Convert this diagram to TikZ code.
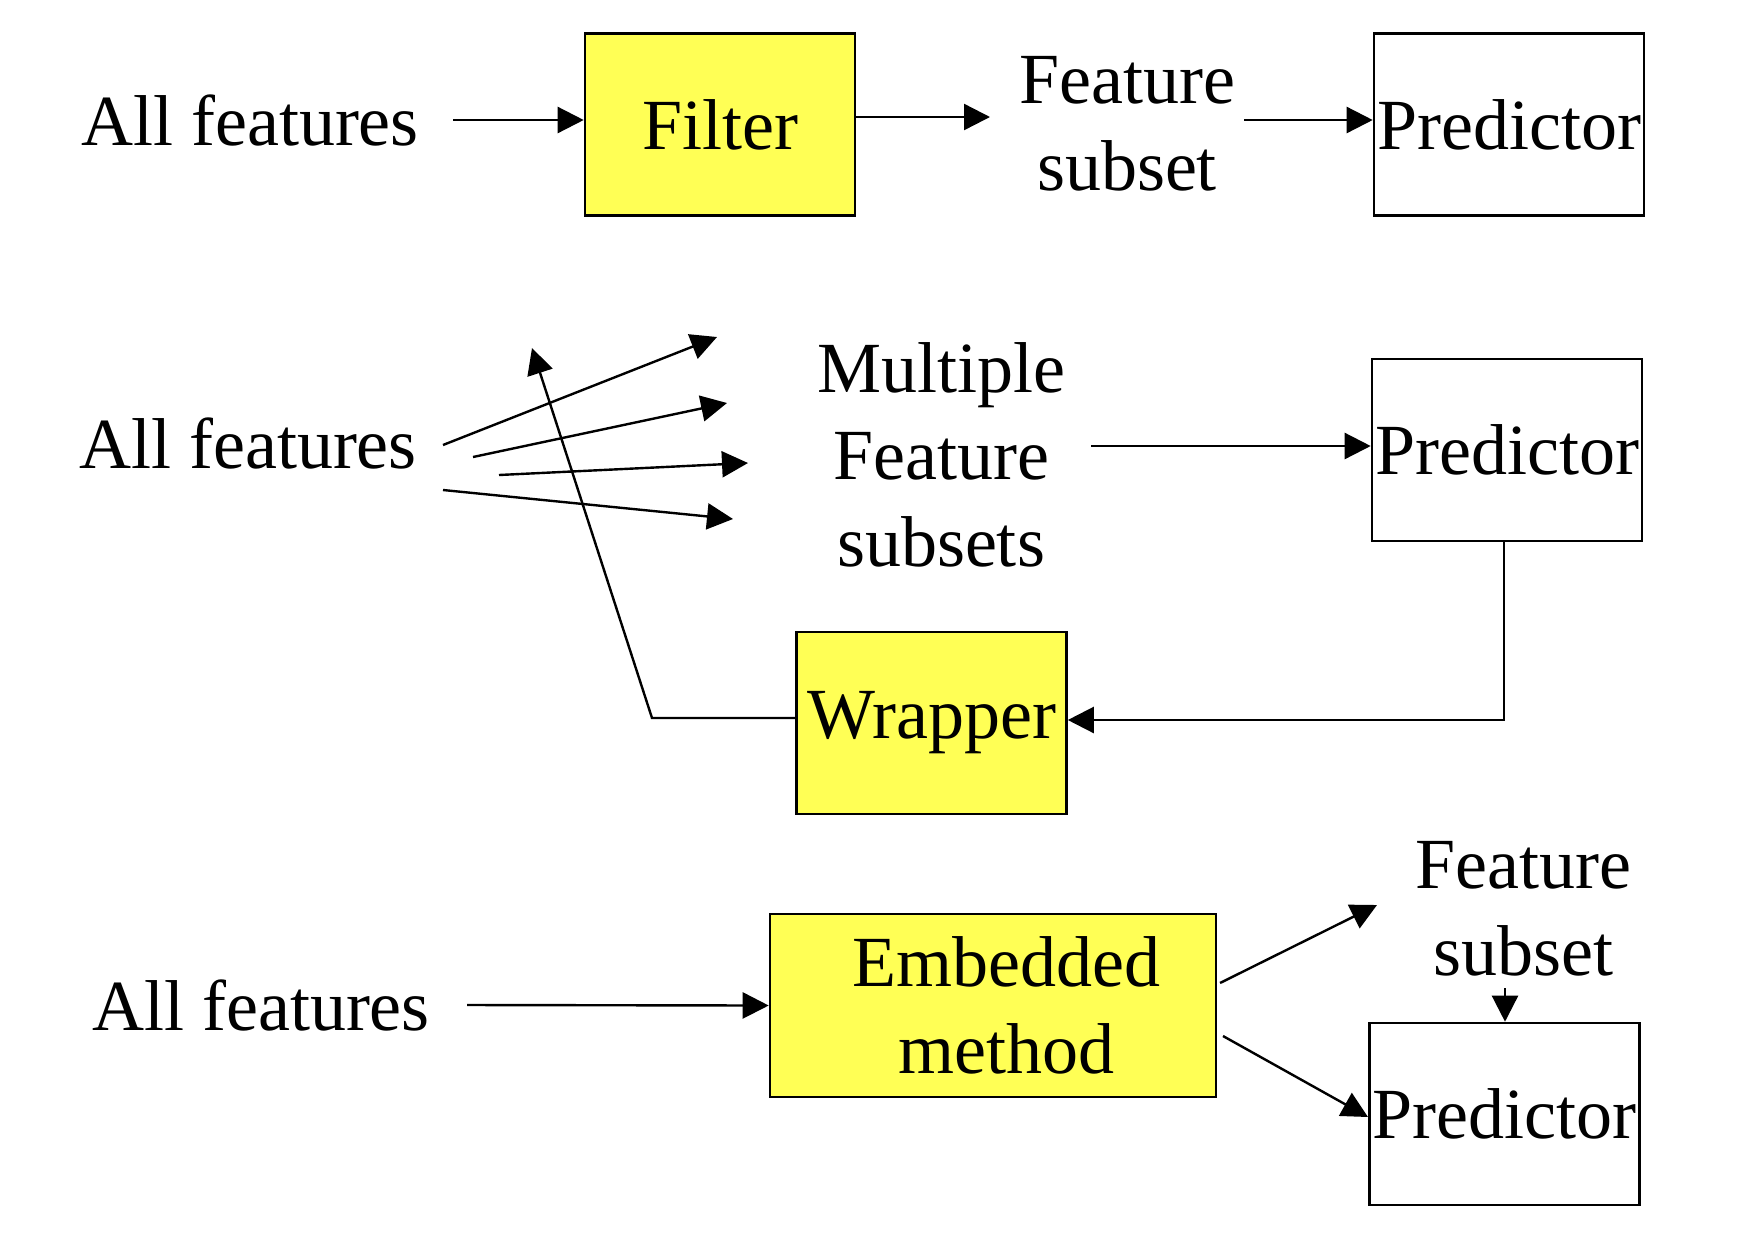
\documentclass[tikz,border=0pt]{standalone}
\usepackage{fontspec}
\setmainfont{Liberation Serif}
\usetikzlibrary{arrows.meta}
\definecolor{boxyellow}{RGB}{255,255,85}

\begin{document}
\begin{tikzpicture}[x=0.5pt,y=-0.5pt,line width=1.2pt,
  >={Triangle[length=13pt,width=13pt]},
  every node/.style={font=\fontsize{36}{43.5}\selectfont},
  txt/.style={inner sep=0pt,align=center},
  box/.style={draw,line width=1.3pt,inner sep=0pt,minimum width=135pt,minimum height=91pt},
  method/.style={box,fill=boxyellow}]
\useasboundingbox (0,0) rectangle (1760,1254);
\begin{scope}
    \node[txt] (all1) at (250,120) {All features};
    \node[method] (filter) at (720,124.5) {Filter};
    \node[txt] (sub1) at (1127,124) {Feature\\subset};
    \node[box] (pred1) at (1509,124.5) {Predictor};
    \coordinate (in1) at (453,120);
    \coordinate (out1) at (990,117);
    \coordinate (to1) at (1244,120);
    \draw[->] (in1) -- (in1 -| filter.west);
    \draw[->] (filter.east |- out1) -- (out1);
    \draw[->] (to1) -- (to1 -| pred1.west);
\end{scope}
\begin{scope}
    \node[txt] (all2) at (248,443) {All features};
    \node[txt] (multi) at (941,455) {Multiple\\Feature\\subsets};
    \node[box] (pred2) at (1507,450) {Predictor};
    \node[method] (wrap) at (931.5,723) {Wrapper};
    \foreach \i/\xa/\ya/\xb/\yb in {1/443/445/717/337,2/473/457/727/403,
        3/499/475/748/463,4/443/490/733/519}{
        \coordinate (fan\i) at (\xa,\ya);
        \coordinate (tip\i) at (\xb,\yb);
        \draw[->] (fan\i) -- (tip\i);
    }
    \coordinate (to2) at (1091,446);
    \coordinate (bend) at (652,718);
    \coordinate (up) at (532,348);
    \draw[->] (to2) -- (to2 -| pred2.west);
    \draw[->] ([xshift=-1.5pt]pred2.south) |- ([yshift=1.5pt]wrap.east);
    \draw[->] (wrap.west |- bend) -- (bend) -- (up);
\end{scope}
\begin{scope}
    \node[txt] (all3) at (261,1005) {All features};
    \node[method,minimum width=223pt,minimum height=91.5pt] (emb) at (993,1005.5) {};
    \node[txt] (embtext) at ([xshift=6.5pt]emb.center) {Embedded\\method};
    \node[txt] (sub3) at (1523,909) {Feature\\subset};
    \node[box] (pred3) at (1504.5,1114) {Predictor};
    \coordinate (in3) at (467,1005);
    \coordinate (up3) at (1220,983);
    \coordinate (uptip) at (1377,905);
    \coordinate (dn3) at (1223,1036);
    \coordinate (dntip) at (1368,1117);
    \coordinate (drop) at (1505,988);
    \draw[->] (in3) -- (emb.west);
    \draw[->] (up3) -- (uptip);
    \draw[->] (dn3) -- (dntip);
    \draw[->] (drop) -- (drop |- pred3.north);
\end{scope}
\end{tikzpicture}
\end{document}
